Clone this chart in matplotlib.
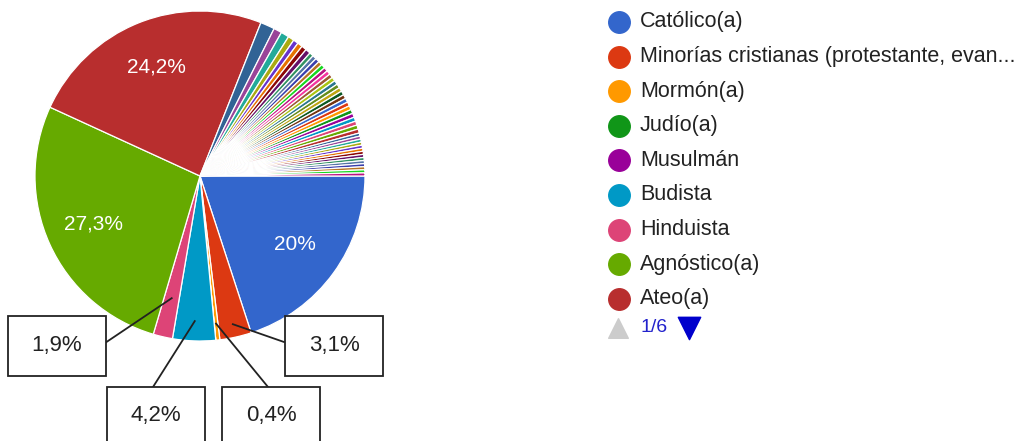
import numpy as np
import matplotlib.pyplot as plt
from matplotlib.patches import Rectangle

plt.rcParams['font.family'] = ['Liberation Sans', 'DejaVu Sans']

# first legend page (9 of ~54 answers)
religiones = ['Católico(a)', 'Minorías cristianas (protestante, evan...',
              'Mormón(a)', 'Judío(a)', 'Musulmán', 'Budista', 'Hinduista',
              'Agnóstico(a)', 'Ateo(a)']
porcentajes = [20.0, 3.1, 0.4, 0.0, 0.0, 4.2, 1.9, 27.3, 24.2]

# the rest of the free-text answers, legend pages 2-6
otras = [1.4, 0.8, 0.8, 0.6, 0.5, 0.5,
         0.5, 0.5, 0.4, 0.4, 0.4, 0.4, 0.4, 0.4, 0.4, 0.4, 0.4, 0.4, 0.4,
         0.4, 0.4, 0.4, 0.4, 0.4, 0.4, 0.4, 0.4, 0.4, 0.4, 0.4, 0.4, 0.3,
         0.3, 0.3, 0.3, 0.3, 0.3, 0.3, 0.3, 0.3, 0.3, 0.3, 0.3, 0.3, 0.3]

pagina = '1/6'

paleta = ['#3366cc', '#dc3912', '#ff9900', '#109618', '#990099', '#0099c6',
          '#dd4477', '#66aa00', '#b82e2e', '#316395', '#994499', '#22aa99',
          '#aaaa11', '#6633cc', '#e67300', '#8b0707', '#651067', '#329262',
          '#5574a6', '#3b3eac', '#b77322', '#16d620', '#b91383', '#f4359e',
          '#9c5935', '#a9c413', '#2a778d', '#668d1c', '#bea413', '#0c5922',
          '#743411']

W, H = 1030, 441
fig = plt.figure(figsize=(W / 100, H / 100), dpi=100)
ax = fig.add_axes([0, 0, 1, 1])

valores = porcentajes + otras
colores = [paleta[i % len(paleta)] for i in range(len(valores))]

cx, cy, R = 200, H - 176, 165


def fmt(pct):
    s = f'{pct:.1f}'.replace('.', ',')
    if s.endswith(',0'):
        s = s[:-2]
    return s + '%'


def etiqueta(pct):
    # only the big slices get a label inside the pie
    return fmt(pct) if pct >= 10 else ''


wedges, _, autotexts = ax.pie(valores, colors=colores, startangle=0,
                              counterclock=False, radius=R, center=(cx, cy),
                              autopct=etiqueta, pctdistance=0.71,
                              wedgeprops=dict(edgecolor='white', linewidth=0.9),
                              textprops=dict(color='white', fontsize=15))

# callout boxes for the thin slices: index, box (x, top), line start, radius
callouts = [(1, (285, 316), (284, 342), 0.92),
            (2, (222, 387), (268, 387), 0.90),
            (5, (107, 387), (153, 387), 0.88),
            (6, (8, 316), (105, 343), 0.76)]
for i, (bx, by), (lx, ly), f in callouts:
    w = wedges[i]
    a = np.deg2rad((w.theta1 + w.theta2) / 2)
    px, py = cx + f * R * np.cos(a), cy + f * R * np.sin(a)
    ax.plot([lx, px], [H - ly, py], color='#222222', lw=1.3, zorder=5)
    ax.add_patch(Rectangle((bx, H - by - 60), 98, 60, facecolor='white',
                           edgecolor='#222222', lw=1.3, zorder=6))
    ax.text(bx + 49, H - by - 29, fmt(valores[i]), ha='center', va='center',
            fontsize=16, color='#222222', zorder=7)

# legend, first page
for k, (nombre, c) in enumerate(zip(religiones, colores)):
    y = H - (22 + 34.6 * k)
    ax.scatter([619], [y], s=240, color=c, zorder=5)
    ax.text(640, y, nombre, va='center', ha='left', fontsize=15.5,
            color='#222222')

yn = H - 328
ax.scatter([618], [yn], marker='^', s=200, color='#cccccc', zorder=5)
ax.text(640, yn, pagina, va='center', ha='left', fontsize=14, color='#2222cc')
ax.scatter([689], [yn], marker='v', s=260, color='#0000cc', zorder=5)

ax.set_xlim(0, W)
ax.set_ylim(0, H)
ax.set_aspect('equal')
ax.axis('off')

fig.savefig('out.png', dpi=100)
